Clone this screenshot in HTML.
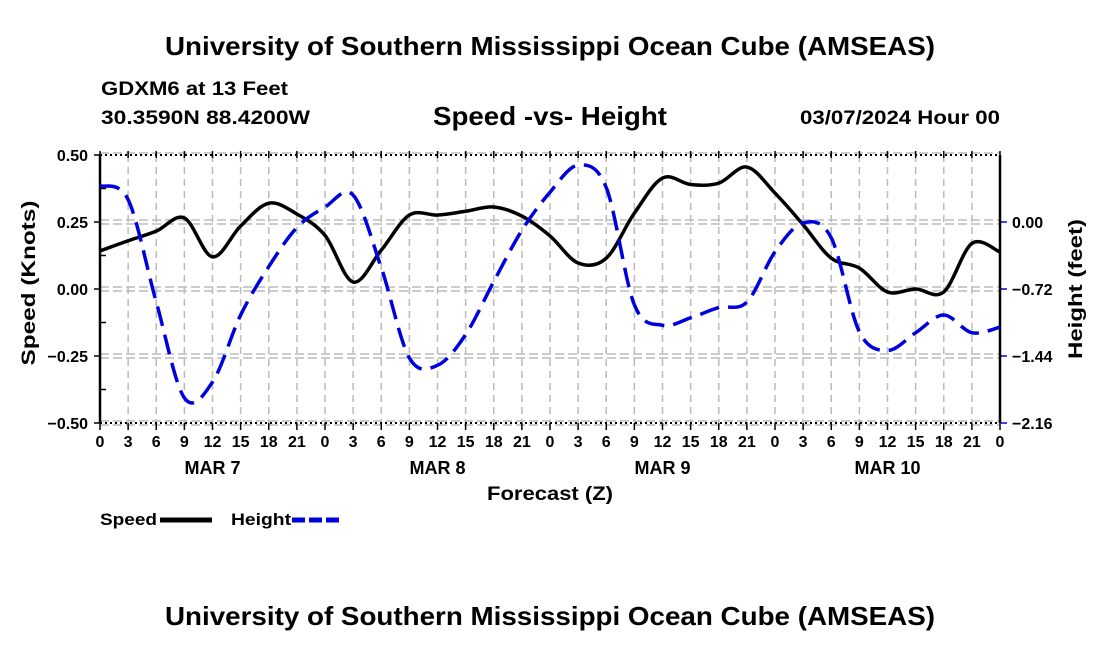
<!DOCTYPE html>
<html><head><meta charset="utf-8"><style>
body{margin:0;background:#fff;}
svg{display:block;font-family:"Liberation Sans",Arial,sans-serif;font-weight:bold;}
</style></head><body>
<svg id="chart" width="1100" height="650" viewBox="0 0 1100 650">
<text x="165" y="55" font-size="26" textLength="770" lengthAdjust="spacingAndGlyphs">University of Southern Mississippi Ocean Cube (AMSEAS)</text>
<text x="101" y="95" font-size="19" textLength="187" lengthAdjust="spacingAndGlyphs">GDXM6 at 13 Feet</text>
<text x="101" y="124" font-size="19" textLength="209" lengthAdjust="spacingAndGlyphs">30.3590N  88.4200W</text>
<text x="433" y="125" font-size="26" textLength="234" lengthAdjust="spacingAndGlyphs">Speed -vs- Height</text>
<text x="800" y="124" font-size="19" textLength="200" lengthAdjust="spacingAndGlyphs">03/07/2024 Hour 00</text>
<g id="grid"></g>
<g id="axes"></g>
<g id="series"></g>
<text transform="translate(35,283) rotate(-90)" text-anchor="middle" font-size="19" textLength="165" lengthAdjust="spacingAndGlyphs">Speed (Knots)</text>
<text transform="translate(1082,289) rotate(-90)" text-anchor="middle" font-size="19" textLength="140" lengthAdjust="spacingAndGlyphs">Height (feet)</text>
<text x="487" y="500" font-size="19" textLength="126" lengthAdjust="spacingAndGlyphs">Forecast (Z)</text>
<g>
<text x="100" y="525" font-size="17" textLength="57" lengthAdjust="spacingAndGlyphs">Speed</text>
<line x1="160" y1="520" x2="212" y2="520" stroke="#000" stroke-width="5"/>
<text x="231" y="525" font-size="17" textLength="60" lengthAdjust="spacingAndGlyphs">Height</text>
<line x1="292" y1="520" x2="342" y2="520" stroke="#0000dd" stroke-width="5" stroke-dasharray="13,4"/>
</g>
<text x="165" y="625" font-size="26" textLength="770" lengthAdjust="spacingAndGlyphs">University of Southern Mississippi Ocean Cube (AMSEAS)</text>
</svg>
<script>
const hours=[0,3,6,9,12,15,18,21,24,27,30,33,36,39,42,45,48,51,54,57,60,63,66,69,72,75,78,81,84,87,90,93,96];
const speedVals=[0.142,0.18,0.216,0.265,0.12,0.235,0.32,0.28,0.2,0.026,0.145,0.276,0.276,0.29,0.306,0.272,0.198,0.097,0.115,0.283,0.414,0.39,0.395,0.455,0.358,0.24,0.115,0.078,-0.011,0.0,-0.011,0.17,0.138];
const heightVals=[0.39,0.24,-0.86,-1.89,-1.72,-1.0,-0.48,-0.06,0.16,0.29,-0.49,-1.46,-1.54,-1.21,-0.64,-0.09,0.32,0.61,0.37,-0.89,-1.11,-1.03,-0.92,-0.86,-0.32,-0.01,-0.17,-1.18,-1.38,-1.19,-1.0,-1.19,-1.13];
const xTickLabels=["0","3","6","9","12","15","18","21","0","3","6","9","12","15","18","21","0","3","6","9","12","15","18","21","0","3","6","9","12","15","18","21","0"];
const dayLabels=["MAR 7","MAR 8","MAR 9","MAR 10"];
const speedTicks=[0.5,0.25,0,-0.25,-0.5];
const heightTicks=[0,-0.72,-1.44,-2.16];
const heightTickLabels=["0.00","\u22120.72","\u22121.44","\u22122.16"];

const X0=100,X1=1000,YT=155,YB=423;
const xs=h=>X0+h/96*(X1-X0);
const ys=v=>YT+(0.5-v)/1.0*(YB-YT);
const yh=v=>YT+(0.72-v)/2.88*(YB-YT);
const NS="http://www.w3.org/2000/svg";
function mk(tag,attrs,parent,txt){const e=document.createElementNS(NS,tag);for(const k in attrs)e.setAttribute(k,attrs[k]);if(txt!==undefined)e.textContent=txt;parent.appendChild(e);return e;}
const grid=document.getElementById('grid'),axes=document.getElementById('axes'),series=document.getElementById('series');
hours.forEach((h,i)=>{
 if(i>0&&i<hours.length-1){const l=mk('line',{x1:xs(h),x2:xs(h),y1:YT,y2:YB,stroke:'#bbb','stroke-width':1.5,'stroke-dasharray':'7,5'},grid);
 
 }
 const t=mk('line',{x1:xs(h),x2:xs(h),y1:YB,y2:YB+7,stroke:'#000','stroke-width':1.5},axes);
 
 
 const t2=mk('line',{x1:xs(h),x2:xs(h),y1:YT-4,y2:YT+3,stroke:'#000','stroke-width':1.5},axes);
 
 
 const lb=mk('text',{x:xs(h),y:YB+24,'text-anchor':'middle','font-size':16},axes,xTickLabels[i]);
 
 
});
dayLabels.forEach((d,i)=>{
 const t=mk('text',{x:xs(i*24+12),y:YB+51,'text-anchor':'middle','font-size':18},axes,d);
 
 
});
speedTicks.forEach(v=>{
 const g=mk('line',{x1:X0,x2:X1,y1:ys(v)-2,y2:ys(v)-2,stroke:'#bbb','stroke-width':1.5,'stroke-dasharray':'9,4'},grid);
 
 
 const t=mk('line',{x1:X0-6,x2:X0,y1:ys(v),y2:ys(v),stroke:'#000','stroke-width':1.5},axes);
 
 
 const lb=mk('text',{x:X0-12,y:ys(v)+6,'text-anchor':'end','font-size':16},axes,(v<0?'\u2212':'')+Math.abs(v).toFixed(2));
 
 
});
for(let v=0.375;v>-0.5;v-=0.25){const t=mk('line',{x1:X0,x2:X0+6,y1:ys(v),y2:ys(v),stroke:'#000','stroke-width':1.5},axes);
 
 }
heightTicks.forEach((v,i)=>{
 const g=mk('line',{x1:X0,x2:X1,y1:yh(v)+2,y2:yh(v)+2,stroke:'#bbb','stroke-width':1.5,'stroke-dasharray':'9,4'},grid);
 
 
 const t=mk('line',{x1:X1,x2:X1+7,y1:yh(v),y2:yh(v),stroke:'#0000dd','stroke-width':1.5},axes);
 
 
 const lb=mk('text',{x:X1+12,y:yh(v)+6,'font-size':16},axes,heightTickLabels[i]);
 
 
});
[[X0,YT,X1,YT,'2,3'],[X0,YB,X1,YB,'2,3']].forEach(a=>{const l=mk('line',{x1:a[0],y1:a[1],x2:a[2],y2:a[3],stroke:'#000','stroke-width':2,'stroke-dasharray':a[4]},axes);
 
 });
const la=mk('line',{x1:X0,y1:YT,x2:X0,y2:YB,stroke:'#000','stroke-width':2.5},axes);


const ra=mk('line',{x1:X1,y1:YT,x2:X1,y2:YB,stroke:'#000','stroke-width':2.5},axes);


function spline(pts){let d=`M${pts[0][0]},${pts[0][1]}`;for(let i=0;i<pts.length-1;i++){const p0=pts[Math.max(0,i-1)],p1=pts[i],p2=pts[i+1],p3=pts[Math.min(pts.length-1,i+2)];
 d+=` C${p1[0]+(p2[0]-p0[0])/6},${p1[1]+(p2[1]-p0[1])/6} ${p2[0]-(p3[0]-p1[0])/6},${p2[1]-(p3[1]-p1[1])/6} ${p2[0]},${p2[1]}`;}return d;}
const sp=mk('path',{d:spline(hours.map((h,i)=>[xs(h),ys(speedVals[i])])),fill:'none',stroke:'#000','stroke-width':3.5},series);


const hp=mk('path',{d:spline(hours.map((h,i)=>[xs(h),yh(heightVals[i])])),fill:'none',stroke:'#0000dd','stroke-width':3.5,'stroke-dasharray':'20,9'},series);


</script>
</body></html>
